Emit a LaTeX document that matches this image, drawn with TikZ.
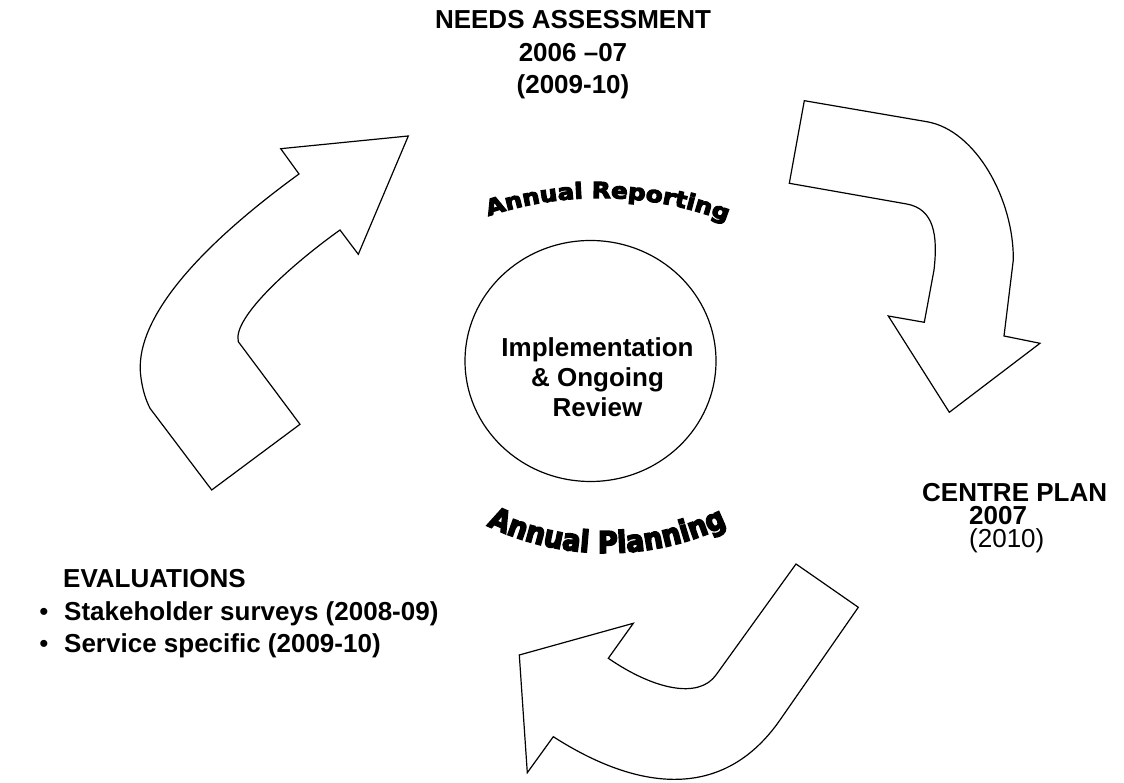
\documentclass[tikz,border=0pt]{standalone}
\usepackage{fontspec}
\setmainfont{Liberation Sans}
\newfontfamily\artR{DejaVu Sans Bold}[FakeBold=5,FakeStretch=1.12]
\newfontfamily\artP{DejaVu Sans Bold}[FakeBold=5,FakeStretch=0.9]
\usetikzlibrary{decorations.text}
\begin{document}
\begin{tikzpicture}[x=1pt,y=1pt,
  bigarrow/.style={draw=black, line width=1.2pt, line join=miter, fill=white},
  lbl/.style={font=\bfseries\fontsize{26}{26}\selectfont, inner sep=0pt},
  plain/.style={font=\fontsize{26}{26}\selectfont, inner sep=0pt}]
\useasboundingbox (0,0) rectangle (1124,783);
\fill[white] (0,0) rectangle (1124,783);

% arrows
\draw[bigarrow] (211.7,293) -- (300,358.7) -- (238.3,441.3)
  .. controls (232,466) and (295,521) .. (340,553) -- (358.3,528.7) -- (408.3,647)
  -- (280.7,634.3) -- (299,609) .. controls (200,537) and (132,463) .. (141,405)
  .. controls (143,391) and (146,383) .. (150,374.7) -- cycle;
\draw[bigarrow] (804.3,682.3) -- (789.3,599.7) -- (906.7,579)
  .. controls (934,574) and (938,548) .. (934,513) -- (924.3,460.7) -- (888.3,467)
  -- (949.3,370.7) -- (1040,439.7) -- (1004,447) -- (1013.3,523)
  .. controls (1014,583) and (976,653) .. (926.7,661.3) -- cycle;
\draw[bigarrow] (796,219) -- (858.3,175.7) -- (780,63)
  .. controls (723,-19) and (637.3,-7.7) .. (553.3,46.3) -- (527.3,10.3) -- (519.3,128)
  -- (633.3,159.7) -- (608.3,124.7) .. controls (654,93.3) and (698.6,83.7) .. (716,108) -- cycle;

% central circle
\draw[bigarrow] (590.5,422) ellipse [x radius=125.5, y radius=120.5];
\node[lbl, anchor=base] (impl1) at (597.5,426) {Implementation};
\node[lbl, anchor=base] (impl2) at (597.5,396) {\& Ongoing};
\node[lbl, anchor=base] (impl3) at (597.5,366) {Review};

% word art
\path[decorate, decoration={text along path, text align=center,
  text={|\artR\fontsize{22}{22}\selectfont|Annual Reporting}}]
  (600,234) ++(112:351) arc[start angle=112, end angle=65.4, radius=351];
\path[decorate, decoration={text along path, text align=center,
  text={|\artP\fontsize{30}{30}\selectfont|Annual Planning}}]
  (607,506) ++(240:276) arc[start angle=240, end angle=300, radius=276];

% labels
\node[lbl, anchor=base] (needs1) at (573,754.7) {NEEDS ASSESSMENT};
\node[lbl, anchor=base] (needs2) at (573,721.3) {2006 –07};
\node[lbl, anchor=base] (needs3) at (573,689.7) {(2009-10)};

\node[lbl, anchor=base west] (cp1) at (922,281) {CENTRE PLAN};
\node[lbl, anchor=base west] (cp2) at (969,258) {2007};
\node[plain, anchor=base west] (cp3) at (969,235) {(2010)};

\node[lbl, anchor=base west] (ev) at (63,195) {EVALUATIONS};
\node[plain, anchor=base] (b1) at (44,162) {•};
\node[lbl, anchor=base west] (ev1) at (64,162) {Stakeholder surveys (2008-09)};
\node[plain, anchor=base] (b2) at (44,130) {•};
\node[lbl, anchor=base west] (ev2) at (64,130) {Service specific (2009-10)};
\end{tikzpicture}
\end{document}
